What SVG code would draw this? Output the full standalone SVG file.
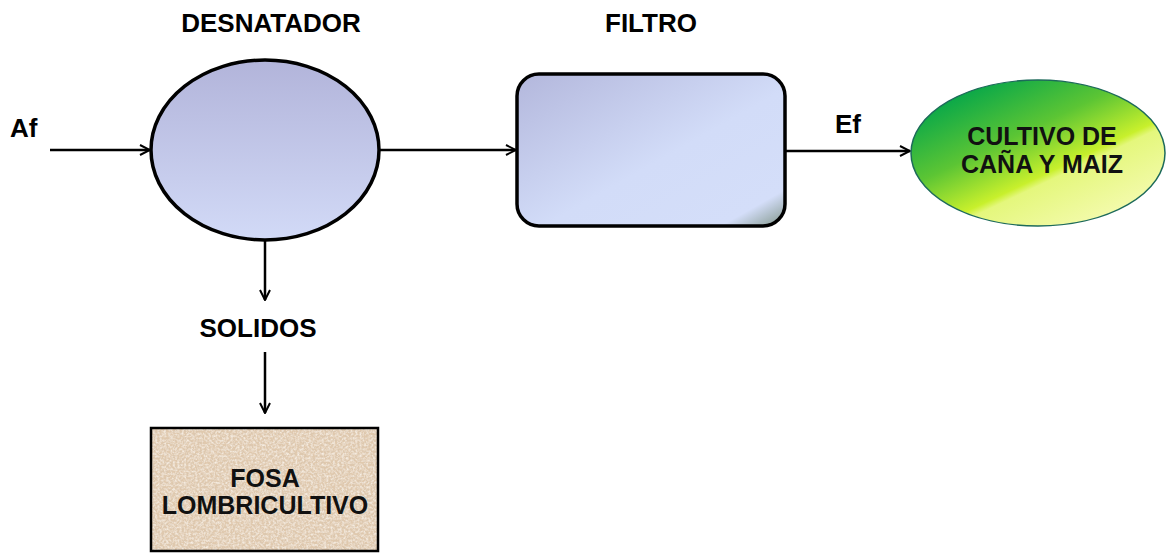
<svg xmlns="http://www.w3.org/2000/svg" width="1171" height="555" viewBox="0 0 1171 555">
  <defs>
    <style>
      .lbl { font-family: "Liberation Sans", Arial, sans-serif; font-weight: bold; font-size: 26px; fill: #000; }
      .inner { font-family: "Liberation Sans", Arial, sans-serif; font-weight: bold; font-size: 25px; fill: #111; text-anchor: middle; }
      .conn { stroke: #000; stroke-width: 2.5; fill: none; }
    </style>
    <marker id="arrow" viewBox="0 0 12 12" refX="11" refY="6" markerWidth="12" markerHeight="12" markerUnits="userSpaceOnUse" orient="auto">
      <path d="M1,1 L11,6 L1,11" fill="none" stroke="#000" stroke-width="2"/>
    </marker>
    <linearGradient id="gDes" x1="0" y1="0" x2="0" y2="1">
      <stop offset="0" stop-color="#b2b4da"/>
      <stop offset="1" stop-color="#d2daf7"/>
    </linearGradient>
    <linearGradient id="gFil" x1="0" y1="0" x2="1" y2="1">
      <stop offset="0" stop-color="#b3b7dc"/>
      <stop offset="0.55" stop-color="#d2dcf8"/>
      <stop offset="0.88" stop-color="#d4def9"/>
      <stop offset="1" stop-color="#7f9488"/>
    </linearGradient>
    <linearGradient id="gCul" x1="0.15" y1="0.1" x2="0.85" y2="0.95">
      <stop offset="0" stop-color="#05a64a"/>
      <stop offset="0.35" stop-color="#5cc534"/>
      <stop offset="0.6" stop-color="#c8f02c"/>
      <stop offset="0.64" stop-color="#e4f77c"/>
      <stop offset="1" stop-color="#f6fbb4"/>
    </linearGradient>
    <filter id="sand" x="0" y="0" width="100%" height="100%">
      <feTurbulence type="fractalNoise" baseFrequency="0.45" numOctaves="3" seed="4" result="n"/>
      <feColorMatrix in="n" type="matrix" values="0 0 0 0 0.66  0 0 0 0 0.55  0 0 0 0 0.43  1.4 0 0 0 -0.6" result="dark"/>
      <feColorMatrix in="n" type="matrix" values="0 0 0 0 0.98  0 0 0 0 0.94  0 0 0 0 0.88  0 1.5 0 0 -0.55" result="light"/>
      <feMerge result="m">
        <feMergeNode in="SourceGraphic"/>
        <feMergeNode in="dark"/>
        <feMergeNode in="light"/>
      </feMerge>
      <feComposite in="m" in2="SourceGraphic" operator="in"/>
    </filter>
  </defs>

  <rect width="1171" height="555" fill="#fff"/>

  <!-- flow connectors -->
  <g id="connectors">
    <line class="conn" x1="50" y1="150" x2="150" y2="150" marker-end="url(#arrow)"/>
    <line class="conn" x1="379" y1="150" x2="516" y2="150" marker-end="url(#arrow)"/>
    <line class="conn" x1="786" y1="151" x2="910" y2="151" marker-end="url(#arrow)"/>
    <line class="conn" x1="265" y1="240" x2="265" y2="300" marker-end="url(#arrow)"/>
    <line class="conn" x1="265" y1="352" x2="265" y2="413" marker-end="url(#arrow)"/>
  </g>

  <!-- free labels -->
  <g id="labels">
    <text class="lbl" x="271" y="32" text-anchor="middle">DESNATADOR</text>
    <text class="lbl" x="651" y="32" text-anchor="middle">FILTRO</text>
    <text class="lbl" x="10" y="137">Af</text>
    <text class="lbl" x="835" y="133">Ef</text>
    <text class="lbl" x="258" y="337" text-anchor="middle">SOLIDOS</text>
  </g>

  <g id="desnatador">
    <ellipse cx="265" cy="150" rx="114" ry="90" fill="url(#gDes)" stroke="#000" stroke-width="3.5"/>
  </g>

  <g id="filtro">
    <rect x="517" y="74" width="268" height="152" rx="22" ry="22" fill="url(#gFil)" stroke="#000" stroke-width="3.5"/>
  </g>

  <g id="cultivo">
    <ellipse cx="1038" cy="153" rx="127" ry="73" fill="url(#gCul)" stroke="#1d6a5a" stroke-width="1.5"/>
    <text class="inner" x="1042" y="145">CULTIVO DE</text>
    <text class="inner" x="1042" y="173">CAÑA  Y MAIZ</text>
  </g>

  <g id="fosa">
    <rect x="151" y="428" width="227" height="123" fill="#e0c9ae" filter="url(#sand)"/>
    <rect x="151" y="428" width="227" height="123" fill="none" stroke="#000" stroke-width="2.5"/>
    <text class="inner" x="265" y="487">FOSA</text>
    <text class="inner" x="265" y="514">LOMBRICULTIVO</text>
  </g>
</svg>
